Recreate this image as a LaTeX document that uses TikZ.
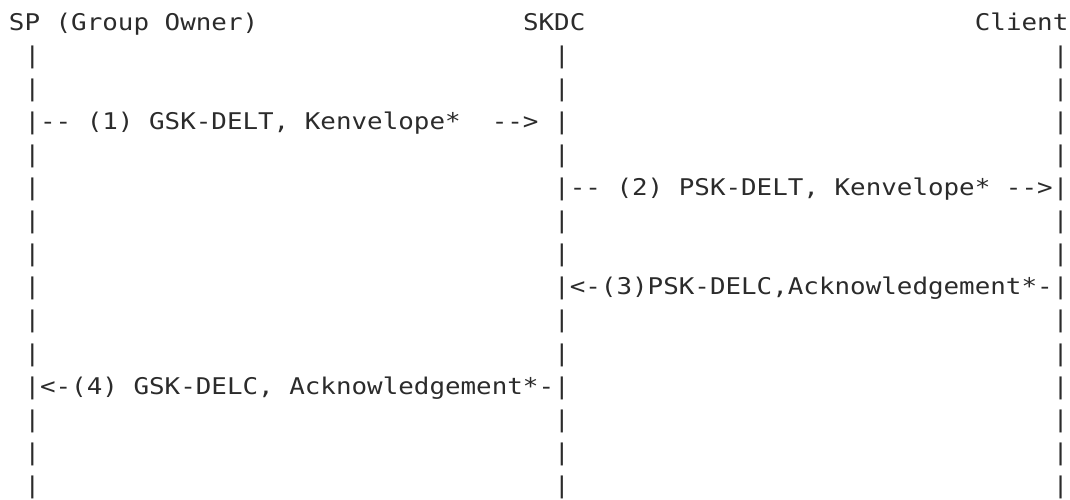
\documentclass[tikz,border=0pt]{standalone}
\usepackage{fontspec}
\setmonofont[FakeStretch=1.125]{DejaVu Sans Mono}
\usetikzlibrary{positioning}
\definecolor{ink}{HTML}{2B2B2B}

\begin{document}
\begin{tikzpicture}[
  x=15.58pt, y=-33.1pt,
  txt/.style={inner sep=0pt, outer sep=0pt, anchor=base west, text=ink,
    font=\ttfamily\fontsize{23}{23}\selectfont},
  bar/.style={txt}
]
\useasboundingbox (-8.93pt,30pt) rectangle (1061.07pt,-469pt);

% heads of the three lifelines
\node[txt] (sp) at (0,0) {SP (Group Owner)};
\node[txt] (skdc) at (33,0) {SKDC};
\node[txt] (client) at (62,0) {Client};

% lifelines, one bar per row
\foreach \r in {1,...,14} {
  \node[bar] (sp-\r) at (1,\r) {|};
  \node[bar] (skdc-\r) at (35,\r) {|};
  \node[bar] (client-\r) at (67,\r) {|};
}

% messages
\node[txt] (msg1) at (2,3) {-- (1) GSK-DELT, Kenvelope*~~-->};
\node[txt] (msg2) at (36,5) {-- (2) PSK-DELT, Kenvelope* -->};
\node[txt] (msg3) at (36,8) {<-(3)PSK-DELC,Acknowledgement*-};
\node[txt] (msg4) at (2,11) {<-(4) GSK-DELC, Acknowledgement*-};
\end{tikzpicture}
\end{document}
